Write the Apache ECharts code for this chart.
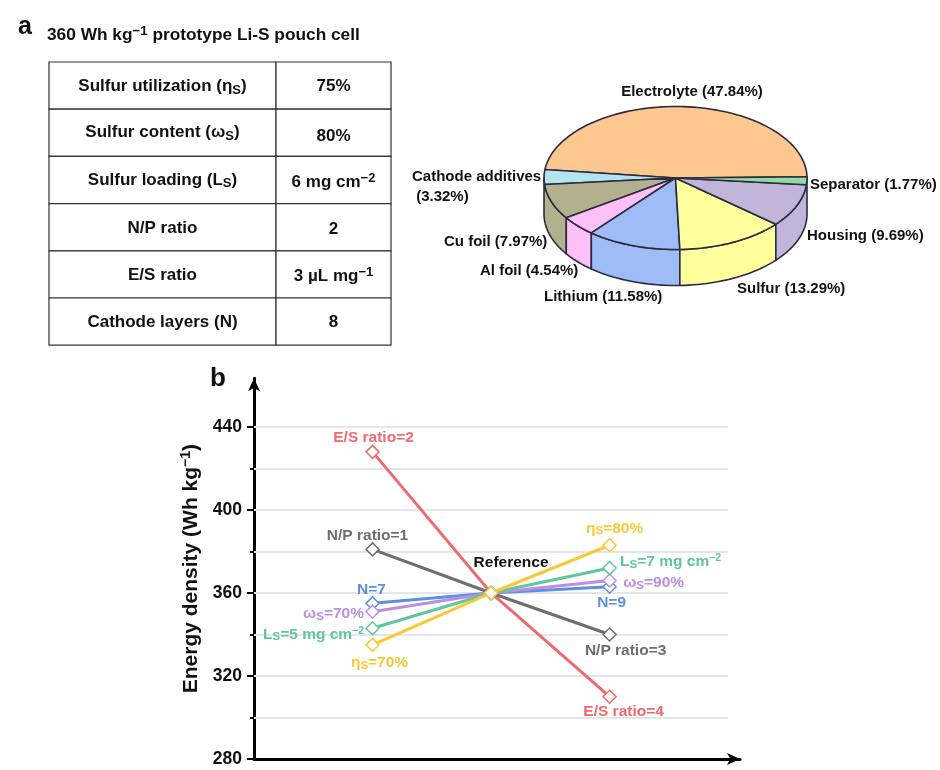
<!DOCTYPE html>
<html><head><meta charset="utf-8">
<style>html,body{margin:0;padding:0;background:#fff}#c{width:940px;height:770px}</style>
<script src="https://cdn.jsdelivr.net/npm/echarts@6/dist/echarts.min.js"></script>
</head><body><div id="c"></div>
<script>
// ---------- data ----------
const pieNames = ['Electrolyte','Cathode additives','Cu foil','Al foil','Lithium','Sulfur','Housing','Separator'];
const pieShares = [47.84,3.32,7.97,4.54,11.58,13.29,9.69,1.77];
const pieColors = ['#FDC88F','#B3E5F1','#B2B08F','#FFBFF7','#9EBCF5','#FFFF9C','#C3B5D9','#92D9A2'];
const pieLabels = ['Electrolyte (47.84%)','Cathode additives\n (3.32%)','Cu foil (7.97%)','Al foil (4.54%)','Lithium (11.58%)','Sulfur (13.29%)','Housing (9.69%)','Separator (1.77%)'];

const tableParams = ['Sulfur utilization (η{sub|S})','Sulfur content (ω{sub|S})','Sulfur loading (L{sub|S})','N/P ratio','E/S ratio','Cathode layers (N)'];
const tableValues = ['75%','80%','6 mg cm{sup|−2}','2','3 µL mg{sup|−1}','8'];

const xPositions = [1,2,3];
const esRatio = [428,360,310];
const npRatio = [381,360,340];
const layers = [355,360,363];
const sContent = [351,360,366];
const sLoading = [343,360,372];
const sUtil = [335,360,383];
const lowLabels = ['E/S ratio=2','N/P ratio=1','N=7','ω{s|S}=70%','L{s|S}=5 mg cm{u|−2}','η{s|S}=70%'];
const highLabels = ['E/S ratio=4','N/P ratio=3','N=9','ω{s|S}=90%','L{s|S}=7 mg cm{u|−2}','η{s|S}=80%'];
const seriesValues = [esRatio,npRatio,layers,sContent,sLoading,sUtil];
const seriesNames = ['E/S ratio','N/P ratio','Cathode layers','Sulfur content','Sulfur loading','Sulfur utilization'];
const seriesColors = ['#EE6A70','#6E6E6E','#5B90E2','#BC8FE4','#5EC79B','#F8C935'];
const gridValues = [300,320,340,360,380,400,420,440];
const majorTicks = [280,320,360,400,440];
const minorTicks = [300,340,380,420];

// ---------- layout (styles only) ----------
const FONT = '"Liberation Sans", Arial, sans-serif';
const lowOffsets = [[1,-14],[-5,-14],[-1,-14],[-39,2],[-59,6],[7,18]];
const highOffsets = [[14,15],[16,16],[2,16],[44,2],[61,-6],[5,-17]];
const pieGeom = {cx:675.5,cy:178,rx:131.5,ry:71.5,depth:36,startDeg:1};
const pieLabelPos = [
 [692,92,'center'],[412,187,'left'],[444,242,'left'],[480,271,'left'],[544,297,'left'],[737,289,'left'],[807,236,'left'],[810,185,'left']];
const table = {x0:49,x1:276,x2:391,y0:62,rowH:47.2};
const paramDy = [1,0,0,1,1,1];
const valueDy = [1,4,2,2,2,1];

function subRich(fs){return {
  sub:{fontSize:fs-4,fontWeight:'bold',fontFamily:FONT,color:'#111',verticalAlign:'bottom',lineHeight:fs+3,padding:[5,0,0,0]},
  sup:{fontSize:fs-4,fontWeight:'bold',fontFamily:FONT,color:'#111',verticalAlign:'top',lineHeight:fs+3,padding:[0,0,5,0]}
};}

function arcPts(a0,a1,dy){
  const g=pieGeom,n=Math.max(2,Math.ceil(Math.abs(a1-a0)/2)),p=[];
  for(let i=0;i<=n;i++){const t=(a0+(a1-a0)*i/n)*Math.PI/180;
    p.push([g.cx+g.rx*Math.cos(t),g.cy-g.ry*Math.sin(t)+dy]);}
  return p;
}
const pieStart=[];let acc=0;
const pieTotal=pieShares.reduce((a,b)=>a+b,0);
pieShares.forEach(v=>{pieStart.push(acc);acc+=v;});

function renderSlice(params,api){
  const i=params.dataIndex,g=pieGeom;
  const a0=g.startDeg+pieStart[i]/pieTotal*360, a1=a0+api.value(0)/pieTotal*360;
  const stroke={stroke:'#2b2b40',lineWidth:1.6,lineJoin:'round',fill:pieColors[i]};
  const children=[];
  // outer wall: the rim facing the viewer; very thin edge slices show no wall of their own
  if(a1>186 && a0<354){
    const w0=a0<186?180:a0, w1=a1>354?360:a1;
    const top=arcPts(w0,w1,0),bot=arcPts(w1,w0,g.depth);
    children.push({type:'polygon',shape:{points:top.concat(bot)},style:stroke});
  }
  children.push({type:'polygon',shape:{points:[[g.cx,g.cy]].concat(arcPts(a0,a1,0))},style:stroke});
  return {type:'group',children};
}

function renderCell(params,api){
  const r=params.dataIndex,t=table;
  const y=t.y0+r*t.rowH;
  const line={stroke:'#333',lineWidth:1.2,fill:'#fff'};
  const fs=17;
  const txt=(s,cx,dy)=>({type:'text',style:{x:cx,y:y+t.rowH/2+dy,text:s,align:'center',verticalAlign:'middle',
     font:'bold '+fs+'px '+FONT,fill:'#111',rich:subRich(fs)}});
  return {type:'group',children:[
    {type:'rect',shape:{x:t.x0,y:y,width:t.x1-t.x0,height:t.rowH},style:line},
    {type:'rect',shape:{x:t.x1,y:y,width:t.x2-t.x1,height:t.rowH},style:line},
    txt(tableParams[r],(t.x0+t.x1)/2,paramDy[r]),
    txt(tableValues[r],(t.x1+t.x2)/2,valueDy[r])
  ]};
}

function richFor(color){return {
  s:{fontSize:11.5,fontWeight:'bold',fontFamily:FONT,color,verticalAlign:'bottom',lineHeight:18,padding:[5,0,0,0]},
  u:{fontSize:10.5,fontWeight:'bold',fontFamily:FONT,color,verticalAlign:'top',lineHeight:18,padding:[0,0,4,0]}
};}
function endLabel(text,offset,color){
  return {show:true,position:'inside',offset,formatter:text,color,fontFamily:FONT,fontWeight:'bold',fontSize:15.5,
    align:'center',verticalAlign:'middle',rich:richFor(color)};
}
const lineSeries=seriesValues.map((vals,i)=>{
  const c=seriesColors[i];
  const s={
    name:seriesNames[i],type:'line',xAxisIndex:0,yAxisIndex:0,z:3+i,
    symbol:'diamond',symbolSize:13,showAllSymbol:true,
    lineStyle:{color:c,width:3},
    itemStyle:{color:'#fff',borderColor:c,borderWidth:1.5},
    data:[
      {value:[xPositions[0],vals[0]],label:endLabel(lowLabels[i],lowOffsets[i],c)},
      {value:[xPositions[1],vals[1]],label:{show:false}},
      {value:[xPositions[2],vals[2]],label:endLabel(highLabels[i],highOffsets[i],c)}
    ]
  };
  if(i===0){
    s.markLine={silent:true,symbol:'none',z:1,animation:false,label:{show:false},
      lineStyle:{color:'#e6e6e6',width:2,type:'solid'},
      data:gridValues.map(v=>[{coord:[0,v]},{coord:[4,v]}])};
  }
  if(i===seriesValues.length-1){
    s.data[1].label={show:true,position:'inside',offset:[20,-30],formatter:'Reference',color:'#111',
      fontFamily:FONT,fontWeight:'bold',fontSize:15.5};
  }
  return s;
});

const chart=echarts.init(document.getElementById('c'),null,{renderer:'canvas'});
chart.setOption({
  animation:false,
  backgroundColor:'#fff',
  grid:{left:254,top:378.2,width:486,height:380.8,containLabel:false},
  xAxis:{type:'value',min:0,max:4.1,splitLine:{show:false},axisTick:{show:false},axisLabel:{show:false},
    axisLine:{onZero:false,lineStyle:{color:'#000',width:3},symbol:['none','arrow'],symbolSize:[9,13]}},
  yAxis:[
   {type:'value',min:280,max:463.5,interval:20,position:'left',splitLine:{show:false},
    name:'Energy density (Wh kg{sup|−1})',nameLocation:'middle',nameGap:49,
    nameTextStyle:{fontFamily:FONT,fontWeight:'bold',fontSize:21,color:'#111',
      rich:{sup:{fontSize:14,fontWeight:'bold',fontFamily:FONT,color:'#111',verticalAlign:'top',lineHeight:24,padding:[0,0,6,0]}}},
    axisLine:{onZero:false,lineStyle:{color:'#000',width:3},symbol:['none','arrow'],symbolSize:[9,13]},
    axisTick:{customValues:majorTicks,length:7,lineStyle:{color:'#000',width:2}},
    axisLabel:{customValues:majorTicks,margin:12,color:'#111',fontFamily:FONT,fontWeight:'bold',fontSize:17.5}},
   {type:'value',min:280,max:463.5,interval:20,position:'left',splitLine:{show:false},
    axisLine:{show:false},axisLabel:{show:false},
    axisTick:{customValues:minorTicks,length:4,lineStyle:{color:'#000',width:2}}}
  ],
  series:[
    ...lineSeries,
    {name:'Mass share',type:'custom',coordinateSystem:'none',renderItem:renderSlice,
     data:pieShares.map((v,i)=>({name:pieNames[i],value:[v]})),z:5},
    {name:'Table',type:'custom',coordinateSystem:'none',renderItem:renderCell,
     data:tableParams.map((p,i)=>({name:p,value:[i]})),z:5}
  ],
  graphic:[
    {type:'text',left:18,top:15,style:{text:'a',font:'bold 25px '+FONT,fill:'#111'}},
    {type:'text',left:210,top:366,style:{text:'b',font:'bold 26px '+FONT,fill:'#111'}},
    {type:'text',x:47,y:35,style:{text:'360 Wh kg{sup|−1} prototype Li-S pouch cell',font:'bold 17.3px '+FONT,fill:'#111',verticalAlign:'middle',rich:subRich(17.3)}},
    ...pieLabels.map((t,i)=>({type:'text',x:pieLabelPos[i][0],y:pieLabelPos[i][1],
      style:{text:t,font:'bold 15px '+FONT,fill:'#111',align:pieLabelPos[i][2],verticalAlign:'middle',lineHeight:20}}))
  ]
});
</script></body></html>
